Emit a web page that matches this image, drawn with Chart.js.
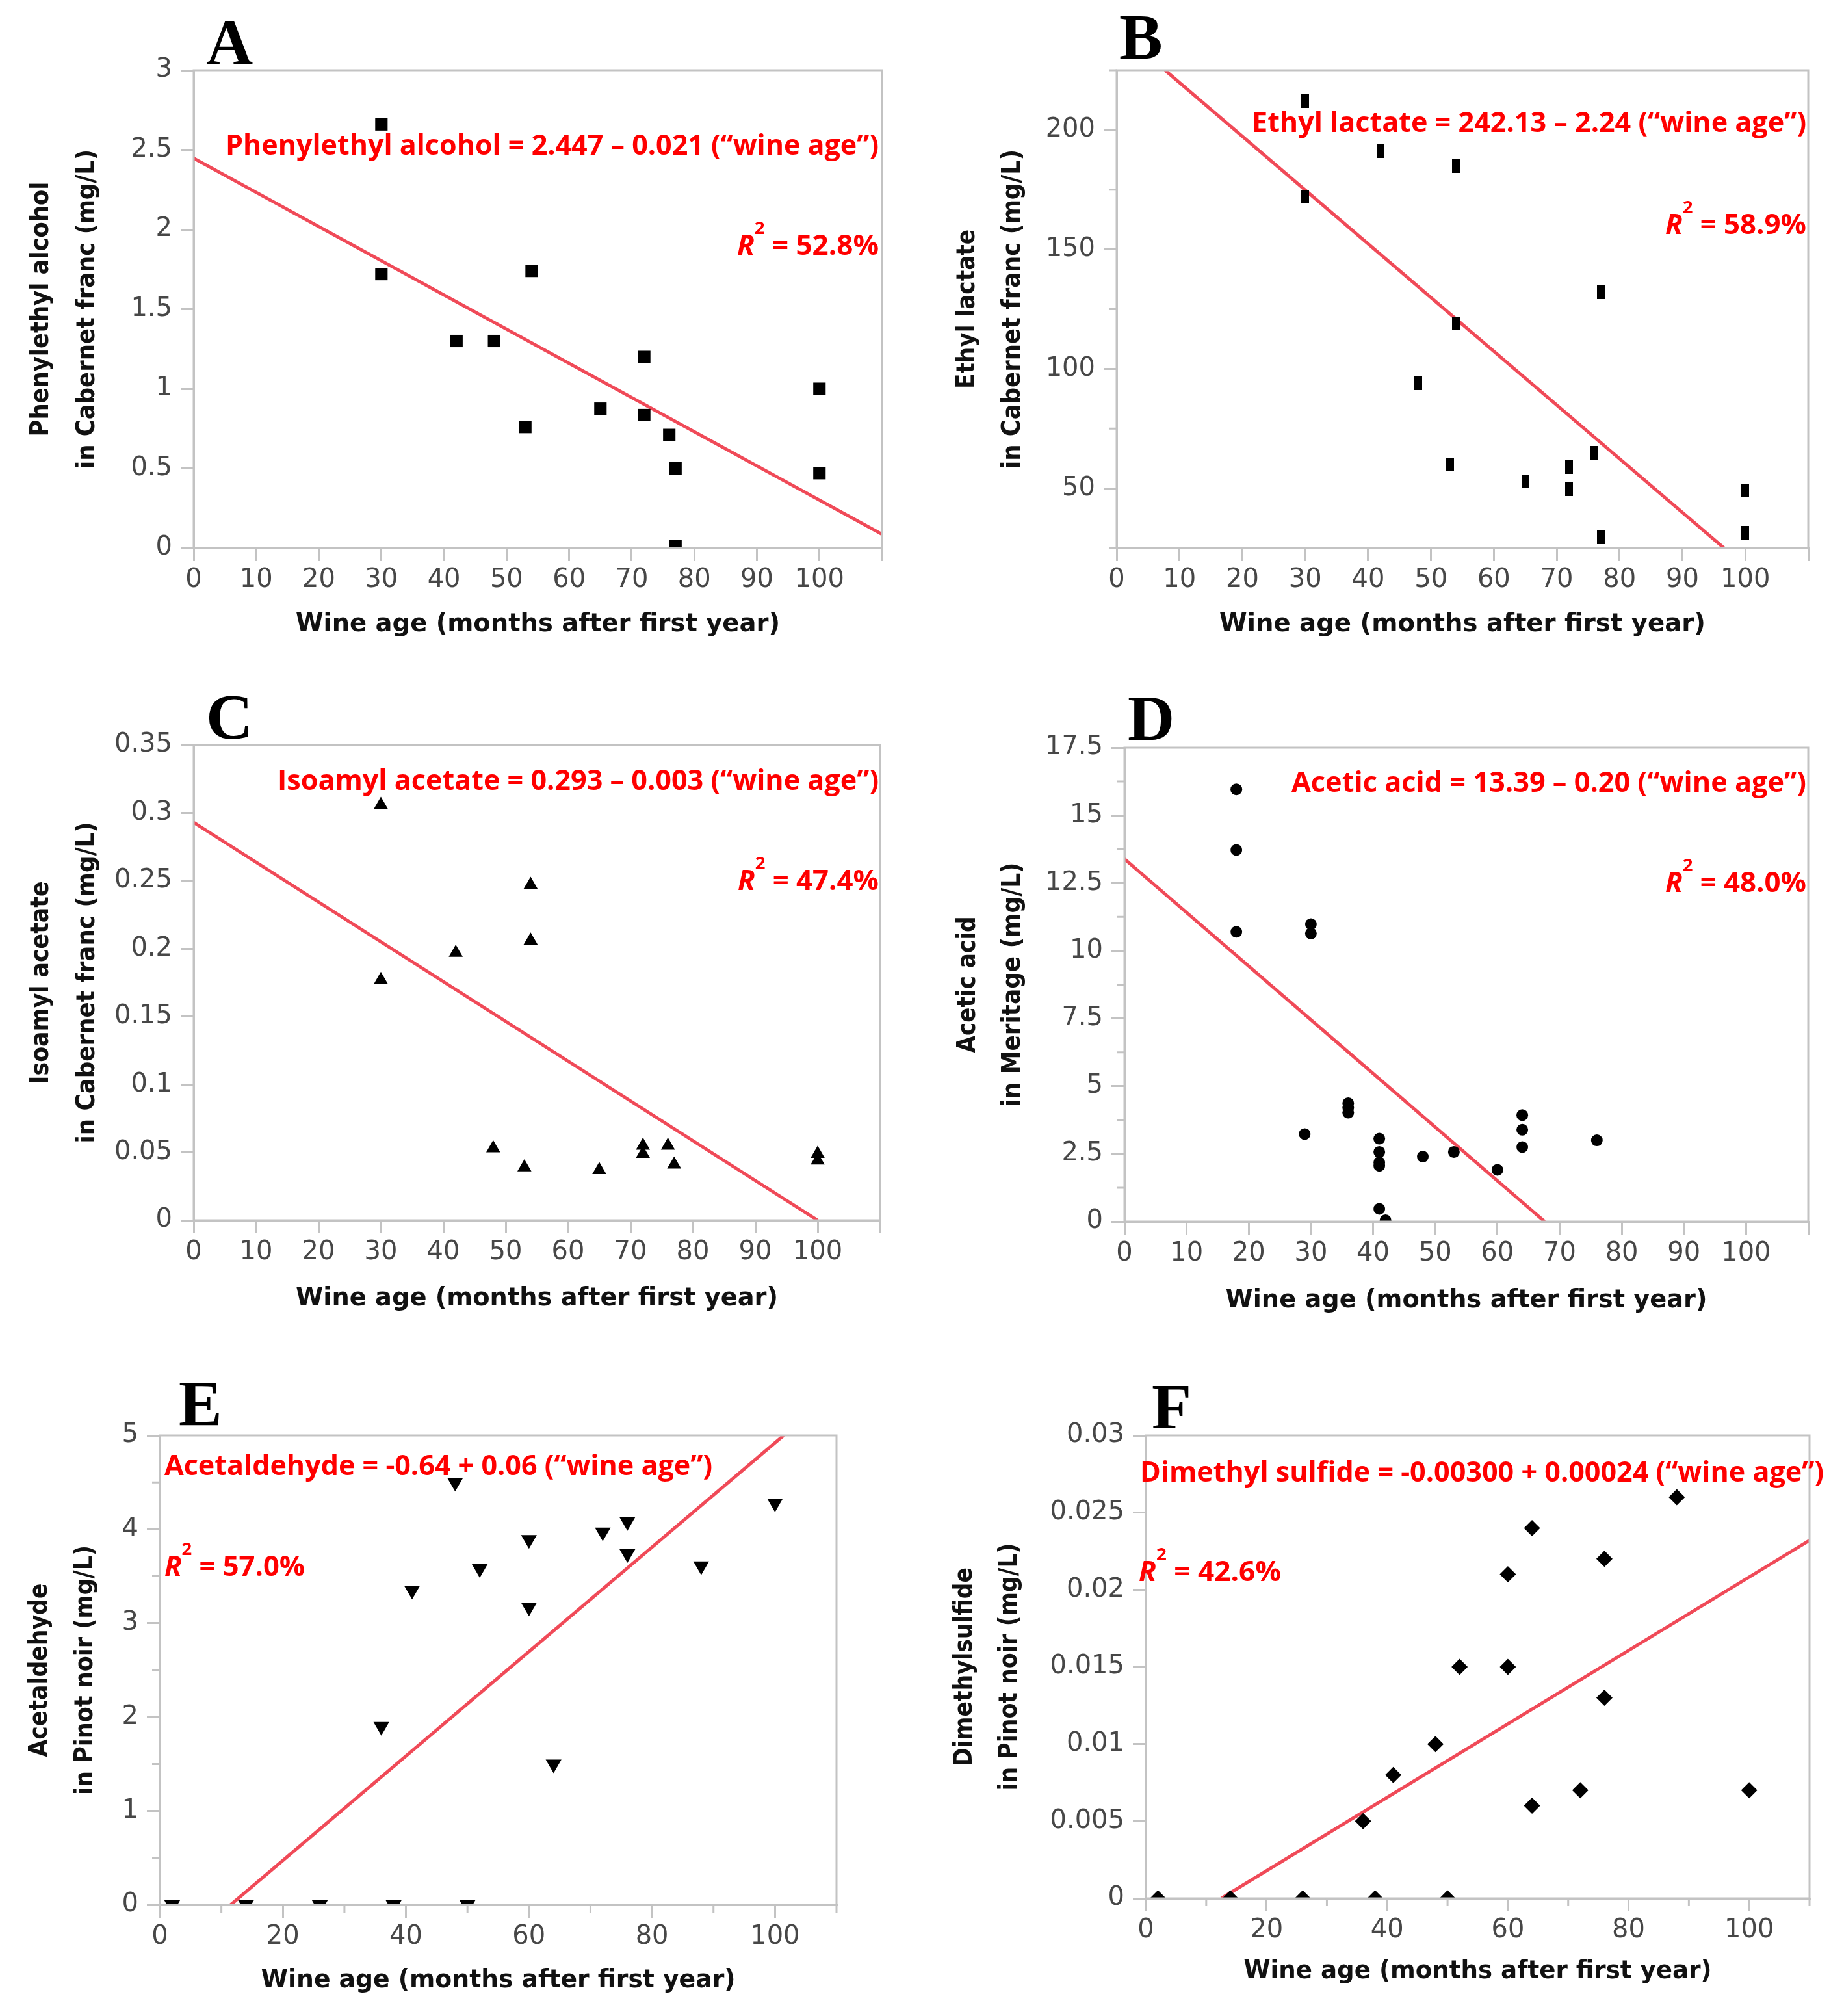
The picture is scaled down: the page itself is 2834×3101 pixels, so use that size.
<!DOCTYPE html>
<html><head><meta charset="utf-8">
<script src="https://cdn.jsdelivr.net/npm/chart.js@4.4.0/dist/chart.umd.min.js"></script>
<style>
html,body{margin:0;padding:0;background:#fff;}
body{width:2834px;height:3101px;position:relative;overflow:hidden;}
canvas{position:absolute;}
</style></head><body>
<script>
// ---------------- DATA ----------------
// A: Phenylethyl alcohol (Cabernet franc)
const ageA  = [30, 30, 42, 48, 53, 54, 65, 72, 72, 76, 77, 77, 100, 100];
const phenA = [2.66, 1.72, 1.30, 1.30, 0.76, 1.74, 0.875, 1.20, 0.835, 0.71, 0.50, 0.01, 1.00, 0.47];
const fitAgeA = [0, 110];
const fitA    = [2.447, 0.086];
// B: Ethyl lactate (Cabernet franc)
const ageB  = [30, 30, 42, 48, 53, 54, 54, 65, 72, 72, 76, 77, 77, 100, 100];
const lactB = [212, 172, 191, 94, 60, 185, 119, 53, 59, 49.6, 65, 132, 29.4, 49.2, 31.5];
const fitAgeB = [7.7, 96.6];
const fitB    = [225, 25];
// C: Isoamyl acetate (Cabernet franc)
const ageC = [30, 30, 42, 48, 53, 54, 54, 65, 72, 72, 76, 77, 100, 100];
const isoC = [0.306, 0.177, 0.197, 0.053, 0.039, 0.247, 0.206, 0.037, 0.055, 0.049, 0.055, 0.041, 0.049, 0.044];
const fitAgeC = [0, 100];
const fitC    = [0.293, 0];
// D: Acetic acid (Meritage)
const ageD    = [18, 18, 18, 29, 30, 30, 36, 36, 36, 41, 41, 41, 41, 41, 42, 48, 53, 60, 64, 64, 64, 76];
const aceticD = [15.96, 13.72, 10.70, 3.23, 10.98, 10.64, 4.37, 4.20, 4.02, 3.06, 2.57, 2.19, 2.06, 0.47, 0.05, 2.40, 2.57, 1.91, 3.93, 3.39, 2.75, 3.00];
const fitAgeD = [0, 67.6];
const fitD    = [13.39, 0];
// E: Acetaldehyde (Pinot noir)
const ageE  = [2, 14, 26, 38, 50, 36, 41, 48, 52, 60, 60, 64, 72, 76, 76, 88, 100];
const aldE  = [0, 0, 0, 0, 0, 1.90, 3.35, 4.50, 3.58, 3.89, 3.17, 1.50, 3.97, 4.08, 3.74, 3.61, 4.28];
const fitAgeE = [11.5, 101.4];
const fitE    = [0, 5];
// F: Dimethyl sulfide (Pinot noir)
const ageF = [2, 14, 26, 38, 50, 36, 41, 48, 52, 60, 60, 64, 64, 72, 76, 76, 88, 100];
const dmsF = [0, 0, 0, 0, 0, 0.005, 0.008, 0.010, 0.015, 0.021, 0.015, 0.024, 0.006, 0.007, 0.022, 0.013, 0.026, 0.007];
const fitAgeF = [12.5, 110];
const fitF    = [0, 0.0232];

// Tick values / labels
const xTicks10  = [0,10,20,30,40,50,60,70,80,90,100,110];
const xLabels10 = ['0','10','20','30','40','50','60','70','80','90','100',''];
const xTicks20  = [0,20,40,60,80,100];
const xLabels20 = ['0','20','40','60','80','100'];
const xMinor20  = [10,30,50,70,90,110];
const yTicksA = [0,0.5,1,1.5,2,2.5,3];
const yTicksB = [50,100,150,200];
const yMinorB = [25,75,125,175,225];
const yTicksC = [0,0.05,0.1,0.15,0.2,0.25,0.3,0.35];
const yTicksD = [0,2.5,5,7.5,10,12.5,15,17.5];
const yMinorD = [1.25,3.75,6.25,8.75,11.25,13.75,16.25];
const yTicksE = [0,1,2,3,4,5];
const yMinorE = [0.5,1.5,2.5,3.5,4.5];
const yTicksF = [0,0.005,0.01,0.015,0.02,0.025,0.03];

// Texts
const letters = ['A','B','C','D','E','F'];
const equations = [
  'Phenylethyl alcohol = 2.447 \u2013 0.021 (\u201Cwine age\u201D)',
  'Ethyl lactate = 242.13 \u2013 2.24 (\u201Cwine age\u201D)',
  'Isoamyl acetate = 0.293 \u2013 0.003 (\u201Cwine age\u201D)',
  'Acetic acid = 13.39 \u2013 0.20 (\u201Cwine age\u201D)',
  'Acetaldehyde = -0.64 + 0.06 (\u201Cwine age\u201D)',
  'Dimethyl sulfide = -0.00300 + 0.00024 (\u201Cwine age\u201D)'
];
const r2Values = ['52.8%','58.9%','47.4%','48.0%','57.0%','42.6%'];
const yTitle1 = ['Phenylethyl alcohol','Ethyl lactate','Isoamyl acetate','Acetic acid','Acetaldehyde','Dimethylsulfide'];
const yTitle2 = ['in Cabernet franc (mg/L)','in Cabernet franc (mg/L)','in Cabernet franc (mg/L)','in Meritage (mg/L)','in Pinot noir (mg/L)','in Pinot noir (mg/L)'];
const xTitle = 'Wine age (months after first year)';

// ---------------- LAYOUT / STYLE ----------------
function barMarker(w,h){const c=document.createElement('canvas');c.width=w;c.height=h;const g=c.getContext('2d');g.fillStyle='#000';g.fillRect(0,0,w,h);return c;}

const panels = [
 {xs:ageA, ys:phenA, fx:fitAgeA, fy:fitA, yMin:0, yMax:3, yT:yTicksA, yM:[], xT:xTicks10, xL:xLabels10, xM:[],
  canvas:[0,0,1420,1030], plot:[298,108,1357,843], mk:{style:'rect', r:13.5, rot:0},
  letter:[317,99], eq:{a:'right',x:1352,y:238,w:1005}, r2:{a:'right',x:1352,y:392,w:218},
  xt:{y:971,w:745}, yt:{x1:74,x2:145,w1:392,w2:491}},
 {xs:ageB, ys:lactB, fx:fitAgeB, fy:fitB, yMin:25, yMax:225, yT:yTicksB, yM:yMinorB, xT:xTicks10, xL:xLabels10, xM:[],
  canvas:[1420,0,1414,1030], plot:[1718,108,2782,843], mk:{style:barMarker(12,21), r:10, rot:0},
  letter:[1722,90], eq:{a:'right',x:2779,y:203,w:853}, r2:{a:'right',x:2779,y:360,w:217},
  xt:{y:971,w:748}, yt:{x1:1499,x2:1569,w1:245,w2:491}},
 {xs:ageC, ys:isoC, fx:fitAgeC, fy:fitC, yMin:0, yMax:0.35, yT:yTicksC, yM:[], xT:xTicks10, xL:xLabels10, xM:[],
  canvas:[0,1030,1420,1055], plot:[298,1146,1354,1877], mk:{style:'triangle', r:12.5, rot:0},
  letter:[317,1136], eq:{a:'right',x:1352,y:1215,w:925}, r2:{a:'right',x:1352,y:1369,w:217},
  xt:{y:2008,w:742}, yt:{x1:74,x2:145,w1:312,w2:494}},
 {xs:ageD, ys:aceticD, fx:fitAgeD, fy:fitD, yMin:0, yMax:17.5, yT:yTicksD, yM:yMinorD, xT:xTicks10, xL:xLabels10, xM:[],
  canvas:[1420,1030,1414,1055], plot:[1730,1150,2782,1879], mk:{style:'circle', r:9, rot:0},
  letter:[1735,1138], eq:{a:'right',x:2779,y:1218,w:792}, r2:{a:'right',x:2779,y:1372,w:217},
  xt:{y:2011,w:741}, yt:{x1:1500,x2:1569,w1:210,w2:376}},
 {xs:ageE, ys:aldE, fx:fitAgeE, fy:fitE, yMin:0, yMax:5, yT:yTicksE, yM:yMinorE, xT:xTicks20, xL:xLabels20, xM:xMinor20,
  canvas:[0,2085,1420,1016], plot:[246,2208,1287,2930], mk:{style:'triangle', r:14, rot:180},
  letter:[275,2192], eq:{a:'left',x:253,y:2269,w:843}, r2:{a:'left',x:253,y:2424,w:216},
  xt:{y:3057,w:730}, yt:{x1:72,x2:142,w1:267,w2:384}},
 {xs:ageF, ys:dmsF, fx:fitAgeF, fy:fitF, yMin:0, yMax:0.03, yT:yTicksF, yM:[], xT:xTicks20, xL:xLabels20, xM:xMinor20,
  canvas:[1420,2085,1414,1016], plot:[1763,2208,2784,2920], mk:{style:'rectRot', r:12.5, rot:0},
  letter:[1772,2197], eq:{a:'left',x:1754,y:2279,w:1052}, r2:{a:'left',x:1752,y:2432,w:219},
  xt:{y:3043,w:720}, yt:{x1:1495,x2:1564,w1:306,w2:381}}
];

const GRAY = '#c3c3c3';
const RED = '#ff0000';
const LINE_RED = '#f04a58';
const TICK_FONT = {family:"'DejaVu Sans'", size:40};
const TICK_COLOR = '#474747';
const TITLE_FONT = "bold 39px 'DejaVu Sans'";
const ANN_FONT = "bold 43px 'Open Sans'";
const ANN_IT = "italic bold 43px 'Open Sans'";
const SUP_FONT = "bold 27px 'Open Sans'";
const LETTER_FONT = "bold 100px 'Liberation Serif'";

function fitText(ctx, text, x, y, font, width, align, color, rot){
  ctx.save();
  ctx.font = font; ctx.fillStyle = color;
  const w = ctx.measureText(text).width;
  ctx.translate(x, y);
  if (rot) ctx.rotate(rot);
  ctx.scale(width / w, 1);
  ctx.textAlign = align; ctx.textBaseline = 'alphabetic';
  ctx.fillText(text, 0, 0);
  ctx.restore();
}

function drawR2(ctx, val, spec, ox, oy){
  ctx.save();
  const parts = [['R', ANN_IT, 0], ['2', SUP_FONT, -32], [' = ' + val, ANN_FONT, 0]];
  let total = 0; const ws = [];
  for (const p of parts){ ctx.font = p[1]; const w = ctx.measureText(p[0]).width; ws.push(w); total += w; }
  const s = spec.w / total;
  let x = (spec.a === 'right' ? spec.x - spec.w : spec.x) - ox;
  const y = spec.y - oy;
  ctx.fillStyle = RED; ctx.textBaseline = 'alphabetic'; ctx.textAlign = 'left';
  parts.forEach((p, i) => {
    ctx.save(); ctx.font = p[1]; ctx.translate(x, y + p[2]); ctx.scale(s, 1); ctx.fillText(p[0], 0, 0); ctx.restore();
    x += ws[i] * s;
  });
  ctx.restore();
}

panels.forEach((p, idx) => {
  const [cl, ct, cw, ch] = p.canvas;
  const [pl, pt, pr, pb] = p.plot;
  const cv = document.createElement('canvas');
  cv.width = cw; cv.height = ch;
  cv.style.left = cl + 'px'; cv.style.top = ct + 'px';
  cv.style.width = cw + 'px'; cv.style.height = ch + 'px';
  document.body.appendChild(cv);

  const pts = p.xs.map((x, i) => ({x: x, y: p.ys[i]}));
  const fit = p.fx.map((x, i) => ({x: x, y: p.fy[i]}));

  const decor = {
    id: 'decor' + idx,
    afterDraw(chart){
      const ctx = chart.ctx, a = chart.chartArea;
      const xs = chart.scales.x, ys = chart.scales.y;
      ctx.save();
      ctx.strokeStyle = GRAY; ctx.lineWidth = 3;
      ctx.strokeRect(a.left, a.top, a.right - a.left, a.bottom - a.top);
      ctx.beginPath();
      p.yM.forEach(v => { const y = ys.getPixelForValue(v); ctx.moveTo(a.left - 12, y); ctx.lineTo(a.left, y); });
      p.xM.forEach(v => { const x = xs.getPixelForValue(v); ctx.moveTo(x, a.bottom); ctx.lineTo(x, a.bottom + 12); });
      ctx.stroke();
      ctx.restore();
      // panel letter
      ctx.save(); ctx.font = LETTER_FONT; ctx.fillStyle = '#000'; ctx.textAlign = 'left'; ctx.textBaseline = 'alphabetic';
      ctx.fillText(letters[idx], p.letter[0] - cl, p.letter[1] - ct); ctx.restore();
      // equation
      fitText(ctx, equations[idx], p.eq.x - cl, p.eq.y - ct, ANN_FONT, p.eq.w, p.eq.a, RED, 0);
      drawR2(ctx, r2Values[idx], p.r2, cl, ct);
      // axis titles
      const cx = (a.left + a.right) / 2, cy = (a.top + a.bottom) / 2;
      fitText(ctx, xTitle, cx, p.xt.y - ct, TITLE_FONT, p.xt.w, 'center', '#111', 0);
      fitText(ctx, yTitle1[idx], p.yt.x1 - cl, cy, TITLE_FONT, p.yt.w1, 'center', '#111', -Math.PI / 2);
      fitText(ctx, yTitle2[idx], p.yt.x2 - cl, cy, TITLE_FONT, p.yt.w2, 'center', '#111', -Math.PI / 2);
    }
  };

  new Chart(cv, {
    type: 'scatter',
    data: { datasets: [
      { data: pts, pointStyle: p.mk.style, pointRadius: p.mk.r, pointRotation: p.mk.rot,
        backgroundColor: '#000', borderColor: '#000', borderWidth: 0, clip: 0, order: 0 },
      { type: 'line', data: fit, borderColor: LINE_RED, borderWidth: 5, pointRadius: 0,
        showLine: true, fill: false, clip: 0, order: 1 }
    ]},
    options: {
      responsive: false, animation: false, events: [],
      layout: { padding: { top: pt - ct, right: cl + cw - pr, left: 0, bottom: 0 } },
      plugins: { legend: { display: false }, tooltip: { enabled: false } },
      scales: {
        x: { type: 'linear', min: 0, max: 110,
          afterBuildTicks: s => { s.ticks = p.xT.map(v => ({value: v})); },
          afterFit: s => { s.height = ct + ch - pb; },
          ticks: { callback: (v, i) => p.xL[i], font: TICK_FONT, color: TICK_COLOR, padding: 6,
                   maxRotation: 0, minRotation: 0, autoSkip: false },
          grid: { drawOnChartArea: false, drawTicks: true, tickLength: 20, color: GRAY, lineWidth: 3 },
          border: { color: GRAY, width: 3 } },
        y: { type: 'linear', min: p.yMin, max: p.yMax,
          afterBuildTicks: s => { s.ticks = p.yT.map(v => ({value: v})); },
          afterFit: s => { s.width = pl - cl; },
          ticks: { callback: v => String(v), font: TICK_FONT, color: TICK_COLOR, padding: 13, autoSkip: false },
          grid: { drawOnChartArea: false, drawTicks: true, tickLength: 20, color: GRAY, lineWidth: 3 },
          border: { color: GRAY, width: 3 } }
      }
    },
    plugins: [decor]
  });
});
</script>
</body></html>
